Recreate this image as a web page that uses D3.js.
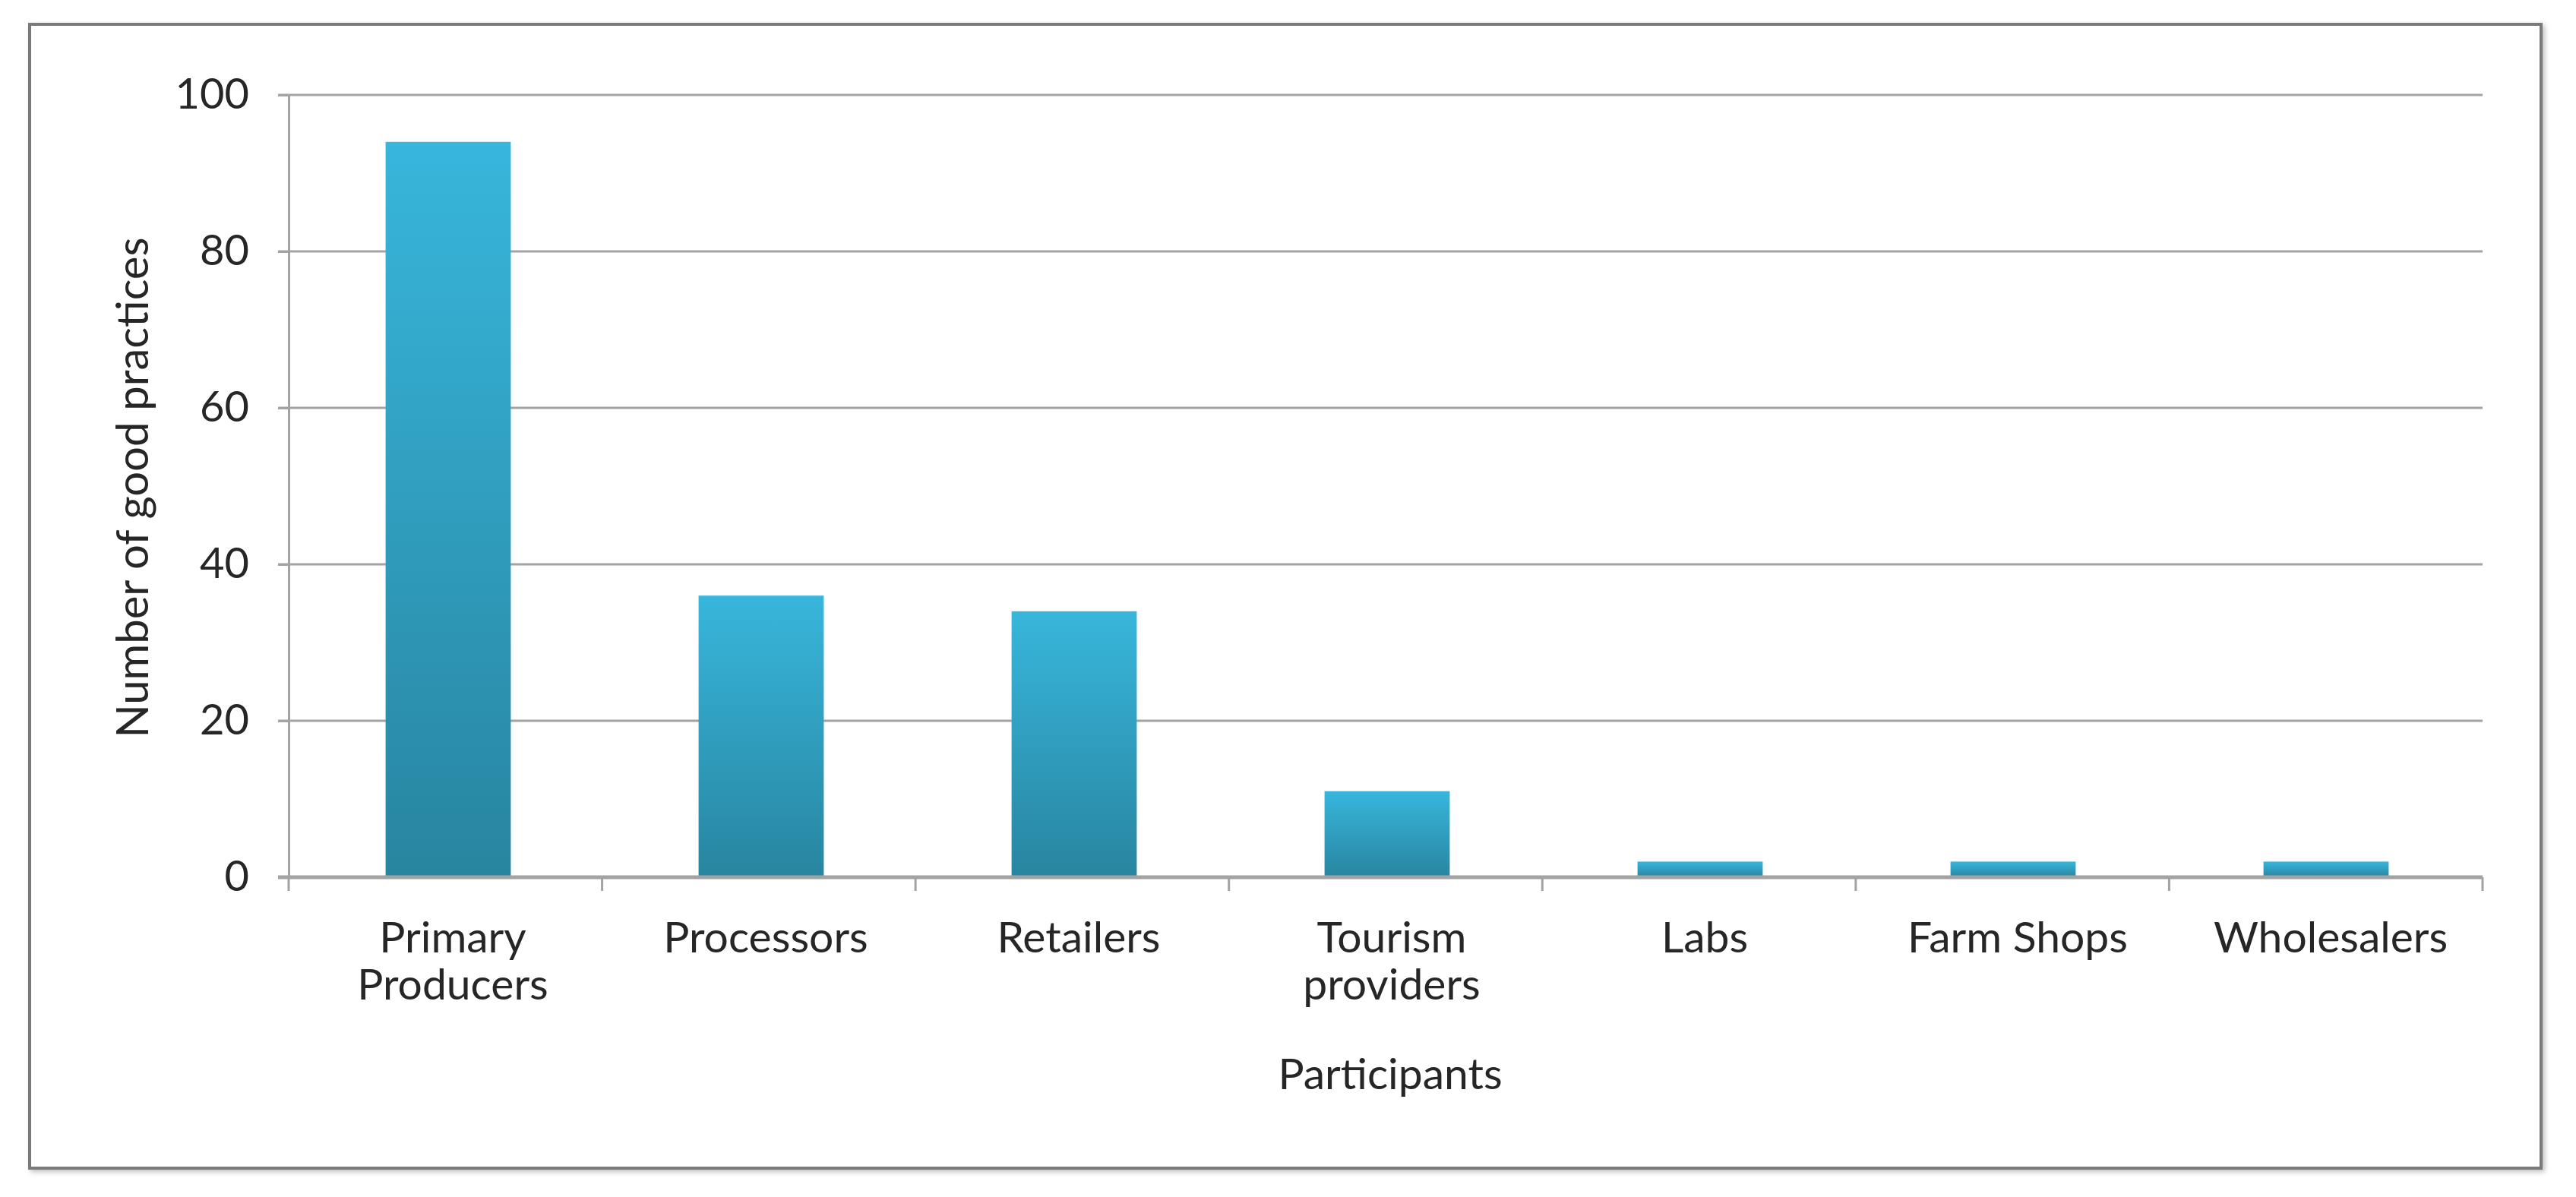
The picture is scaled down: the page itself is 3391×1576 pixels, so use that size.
<!DOCTYPE html>
<html>
<head>
<meta charset="utf-8">
<script src="https://cdn.jsdelivr.net/npm/d3@7"></script>
<style>
  html, body { margin: 0; padding: 0; background: #ffffff; }
  svg { display: block; }
  text { font-family: Lato, "Open Sans", sans-serif; fill: #262626; }
</style>
</head>
<body>
<svg id="chart" width="3391" height="1576"></svg>
<script>
const categories = [["Primary", "Producers"], ["Processors"], ["Retailers"], ["Tourism", "providers"], ["Labs"], ["Farm Shops"], ["Wholesalers"]];
const values = [94, 36, 34, 11, 2, 2, 2];
const yTicks = [0, 20, 40, 60, 80, 100];
const yTitle = "Number of good practices";
const xTitle = "Participants";

const W = 3391, H = 1576;
const plot = { left: 380, right: 3268, top: 125, bottom: 1155 };

const svg = d3.select("#chart");
svg.append("rect").attr("width", W).attr("height", H).attr("fill", "#ffffff");

const defs = svg.append("defs");
const grad = defs.append("linearGradient").attr("id", "barGrad")
  .attr("x1", 0).attr("y1", 0).attr("x2", 0).attr("y2", 1);
grad.append("stop").attr("offset", "0%").attr("stop-color", "#38b6dc");
grad.append("stop").attr("offset", "100%").attr("stop-color", "#2885a0");

const shadow = defs.append("filter").attr("id", "shadow").attr("x", "-5%").attr("y", "-5%").attr("width", "110%").attr("height", "110%");
shadow.append("feDropShadow").attr("dx", 3).attr("dy", 3).attr("stdDeviation", 3).attr("flood-color", "#000").attr("flood-opacity", 0.25);

// outer frame
svg.append("rect")
  .attr("x", 39).attr("y", 32).attr("width", 3306).attr("height", 1506)
  .attr("fill", "#ffffff").attr("stroke", "#7a7a7a").attr("stroke-width", 4)
  .attr("filter", "url(#shadow)");

const keys = categories.map(c => c.join(" "));
const x = d3.scaleBand().domain(keys).range([plot.left + 4, plot.right]).paddingInner(0.6).paddingOuter(0.3);
const y = d3.scaleLinear().domain([0, 100]).range([plot.bottom, plot.top]);

// gridlines
svg.append("g")
  .selectAll("line").data(yTicks.filter(t => t > 0)).join("line")
  .attr("x1", plot.left - 14).attr("x2", plot.right)
  .attr("y1", d => y(d)).attr("y2", d => y(d))
  .attr("stroke", "#a3a3a3").attr("stroke-width", 3);

// y axis
const yAxis = svg.append("g").attr("transform", `translate(${plot.left},0)`)
  .call(d3.axisLeft(y).tickValues(yTicks).tickSize(14).tickPadding(38));
yAxis.select(".domain").attr("stroke", "#a3a3a3").attr("stroke-width", 3);
yAxis.selectAll(".tick line").attr("stroke", "#a3a3a3").attr("stroke-width", 3);
yAxis.selectAll(".tick text").attr("font-size", 56).attr("font-family", "Lato, sans-serif").attr("fill", "#262626");

// bars
svg.append("g").selectAll("rect").data(values).join("rect")
  .attr("x", (d, i) => x(keys[i]))
  .attr("width", x.bandwidth())
  .attr("y", d => y(d))
  .attr("height", d => y(0) - y(d))
  .attr("fill", "url(#barGrad)");

// x axis line + boundary ticks
const bounds = d3.range(keys.length + 1).map(i => plot.left + i * (plot.right - plot.left) / keys.length);
svg.append("line")
  .attr("x1", plot.left - 14).attr("x2", plot.right)
  .attr("y1", y(0)).attr("y2", y(0))
  .attr("stroke", "#a3a3a3").attr("stroke-width", 5);
svg.append("g").selectAll("line").data(bounds).join("line")
  .attr("x1", d => d).attr("x2", d => d)
  .attr("y1", y(0)).attr("y2", y(0) + 18)
  .attr("stroke", "#a3a3a3").attr("stroke-width", 3);

// category labels (one text element per line)
const labelLines = [];
categories.forEach((c, i) => c.forEach((line, j) => labelLines.push({ key: keys[i], line, j })));
svg.append("g").selectAll("text").data(labelLines).join("text")
  .attr("x", d => x(d.key) + x.bandwidth() / 2 + 6)
  .attr("y", d => 1254 + d.j * 62)
  .attr("text-anchor", "middle")
  .attr("font-size", 57)
  .text(d => d.line);

// axis titles
svg.append("text")
  .attr("x", (plot.left + plot.right) / 2 + 6).attr("y", 1434)
  .attr("text-anchor", "middle").attr("font-size", 57)
  .text(xTitle);
svg.append("text")
  .attr("transform", `translate(195,642) rotate(-90)`)
  .attr("text-anchor", "middle").attr("font-size", 58)
  .text(yTitle);
</script>
</body>
</html>
